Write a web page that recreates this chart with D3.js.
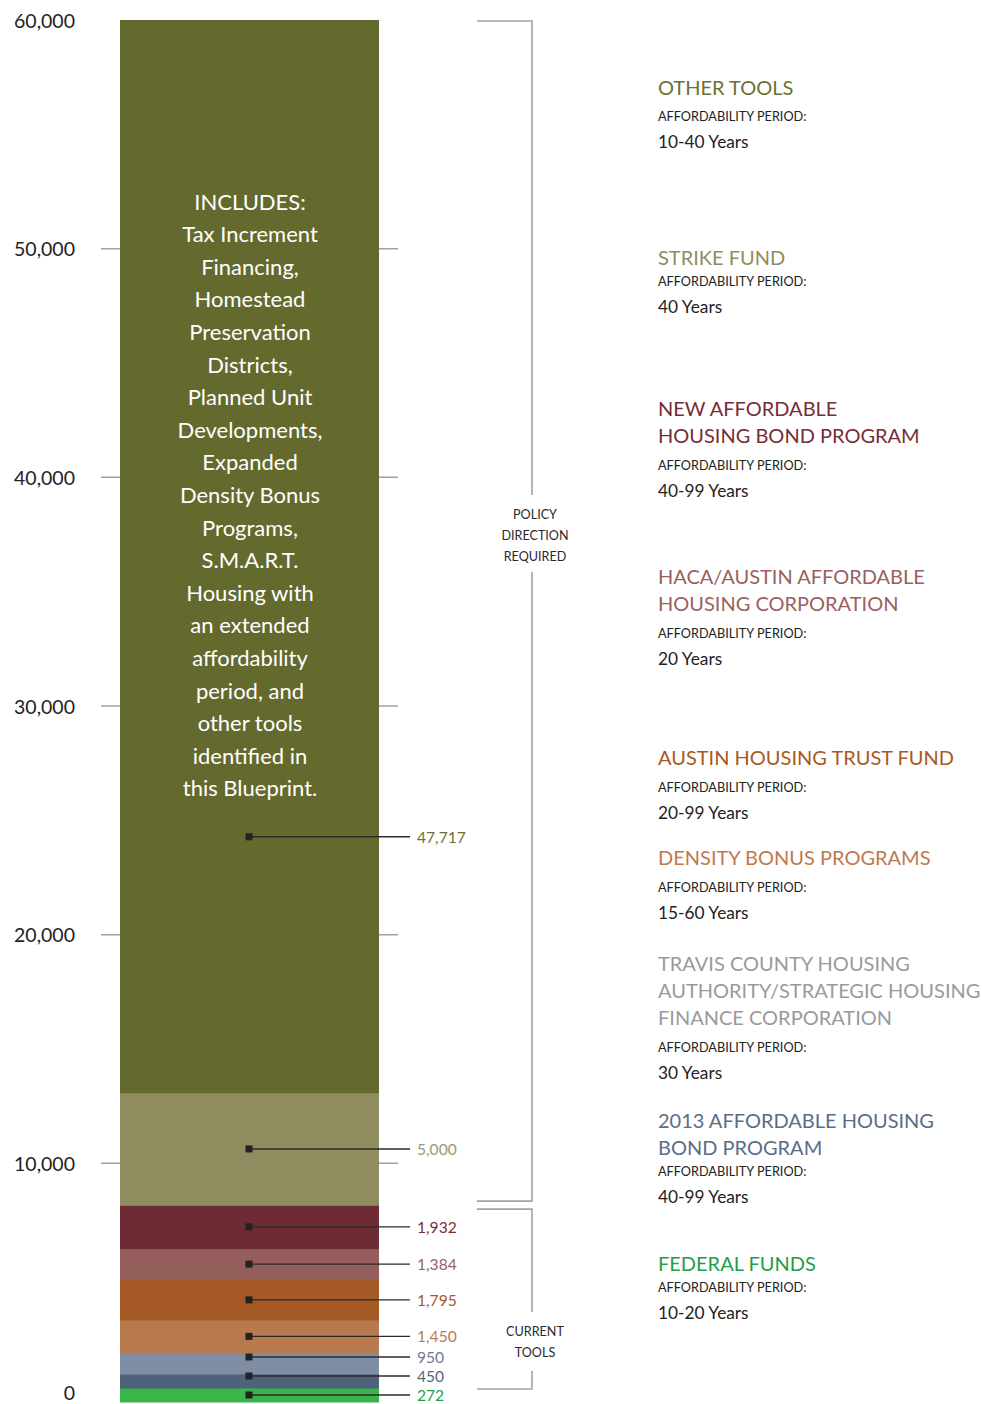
<!DOCTYPE html>
<html>
<head>
<meta charset="utf-8">
<script src="https://cdn.jsdelivr.net/npm/d3@7/dist/d3.min.js"></script>
<style>
  html, body { margin: 0; padding: 0; background: #fff; }
  svg { display: block; font-family: Lato, "Open Sans", sans-serif; }
</style>
</head>
<body>
<svg id="chart" width="982" height="1404"></svg>
<script>
// ---------- DATA (bottom of stack first) ----------
const categories = [
  "Federal Funds",
  "2013 Affordable Housing Bond Program",
  "Travis County Housing Authority/Strategic Housing Finance Corporation",
  "Density Bonus Programs",
  "Austin Housing Trust Fund",
  "HACA/Austin Affordable Housing Corporation",
  "New Affordable Housing Bond Program",
  "Strike Fund",
  "Other Tools"
];
const values = [272, 450, 950, 1450, 1795, 1384, 1932, 5000, 47717];
const barColors = ["#39b54a", "#4f627b", "#7f8ea5", "#b8794d", "#a55a26", "#945e5b", "#6e2b33", "#8f8d60", "#646a2e"];
const valueColors = ["#1f9e48", "#56677e", "#6a7c96", "#bd7a4e", "#a9591f", "#9a5f5e", "#7a2e38", "#9a9870", "#6b7135"];
const axisTicks = [0, 10000, 20000, 30000, 40000, 50000, 60000];
const gridTicks = [10000, 20000, 30000, 40000, 50000];

// Legend (top to bottom)
const legendTitles = [
  ["OTHER TOOLS"],
  ["STRIKE FUND"],
  ["NEW AFFORDABLE", "HOUSING BOND PROGRAM"],
  ["HACA/AUSTIN AFFORDABLE", "HOUSING CORPORATION"],
  ["AUSTIN HOUSING TRUST FUND"],
  ["DENSITY BONUS PROGRAMS"],
  ["TRAVIS COUNTY HOUSING", "AUTHORITY/STRATEGIC HOUSING", "FINANCE CORPORATION"],
  ["2013 AFFORDABLE HOUSING", "BOND PROGRAM"],
  ["FEDERAL FUNDS"]
];
const legendPeriods = ["10-40 Years", "40 Years", "40-99 Years", "20 Years", "20-99 Years", "15-60 Years", "30 Years", "40-99 Years", "10-20 Years"];
const legendColors = ["#6b7135", "#8f8d60", "#772d37", "#9b5f5e", "#a9591f", "#be7a4e", "#999a9c", "#5b6d86", "#1f9e48"];

const includesLines = ["INCLUDES:", "Tax Increment", "Financing,", "Homestead", "Preservation", "Districts,",
  "Planned Unit", "Developments,", "Expanded", "Density Bonus", "Programs,", "S.M.A.R.T.",
  "Housing with", "an extended", "affordability", "period, and", "other tools", "identified in", "this Blueprint."];

const bracketLabels = [["POLICY", "DIRECTION", "REQUIRED"], ["CURRENT", "TOOLS"]];

// ---------- LAYOUT ----------
const svg = d3.select("#chart");
const barX0 = 120, barX1 = 379, barTop = 20, barBottom = 1402;
const y = d3.scaleLinear().domain([0, 60000]).range([1392, 20]);

// axis grid ticks (behind bar)
svg.append("g").selectAll("line").data(gridTicks).join("line")
  .attr("x1", 101).attr("x2", 398)
  .attr("y1", d => y(d)).attr("y2", d => y(d))
  .attr("stroke", "#a0a0a0").attr("stroke-width", 1.5);

// axis labels
svg.append("g").selectAll("text").data(axisTicks).join("text")
  .attr("x", 75).attr("y", d => y(d))
  .attr("text-anchor", "end").attr("dominant-baseline", "central")
  .attr("font-size", 19.5).attr("fill", "#222")
  .text(d => d3.format(",")(d));

// stacked bar: proportional heights with a minimum visible height
const span = barBottom - barTop;
const minH = 14;
let smallIdx = new Set();
let hScale;
for (let it = 0; it < 4; it++) {
  const largeSum = d3.sum(values.filter((v, i) => !smallIdx.has(i)));
  hScale = d3.scaleLinear().domain([0, largeSum]).range([0, span - minH * smallIdx.size]);
  values.forEach((v, i) => { if (hScale(v) < minH) smallIdx.add(i); });
}
const heights = values.map(v => Math.max(hScale(v), minH));
let acc = barBottom;
const segs = values.map((v, i) => {
  const y1 = acc, y0 = acc - heights[i];
  acc = y0;
  return { v, i, y0, y1, mid: (y0 + y1) / 2 };
});

svg.append("g").selectAll("rect").data(segs).join("rect")
  .attr("x", barX0).attr("width", barX1 - barX0)
  .attr("y", d => d.y0).attr("height", d => d.y1 - d.y0 + 0.5)
  .attr("fill", d => barColors[d.i]);

// includes text in top segment
const topSeg = segs[segs.length - 1];
const lineH = 32.6;
const firstLineY = topSeg.y0 + 181;
svg.append("g").selectAll("text").data(includesLines).join("text")
  .attr("x", (barX0 + barX1) / 2 + 0.5).attr("y", (d, i) => firstLineY + i * lineH)
  .attr("text-anchor", "middle").attr("dominant-baseline", "central")
  .attr("font-size", 22).attr("fill", "#fff")
  .text(d => d);
const lastLineY = firstLineY + (includesLines.length - 1) * lineH;

// marker positions with spacing to avoid overlap
const markerY = segs.map(s => s.mid);
markerY[segs.length - 1] = lastLineY + 49;
const labelY = markerY.slice();
for (let i = 1; i < labelY.length; i++) {
  if (labelY[i] > labelY[i - 1] - 19) labelY[i] = labelY[i - 1] - 19;
}
const mx = 249;
const ann = svg.append("g");
segs.forEach((s, i) => {
  ann.append("line").attr("x1", mx).attr("x2", 410)
    .attr("y1", labelY[i]).attr("y2", labelY[i])
    .attr("stroke", "#2a2a2a").attr("stroke-width", 1.4);
  ann.append("rect").attr("x", mx - 3.5).attr("y", labelY[i] - 3.5)
    .attr("width", 7).attr("height", 7).attr("fill", "#222");
  ann.append("text").attr("x", 417).attr("y", labelY[i])
    .attr("dominant-baseline", "central").attr("font-size", 15.6)
    .attr("fill", valueColors[i]).text(d3.format(",")(s.v));
});

// brackets
const split = segs[6].y0; // boundary between current tools and policy tools
const bx0 = 477, bx1 = 532;
const brackets = [
  { top: barTop + 1, bottom: split - 4, gap0: 495, gap1: 572, lbl: bracketLabels[0], ly: 514 },
  { top: split + 4, bottom: y(0) - 3, gap0: 1312, gap1: 1371, lbl: bracketLabels[1], ly: 1331 }
];
const bg = svg.append("g").attr("fill", "none").attr("stroke", "#a3a3a3").attr("stroke-width", 1.6);
brackets.forEach(b => {
  bg.append("path").attr("d", `M${bx0},${b.top}H${bx1}V${b.gap0}`);
  bg.append("path").attr("d", `M${bx1},${b.gap1}V${b.bottom}H${bx0}`);
  b.lbl.forEach((t, j) => {
    svg.append("text").attr("x", 535).attr("y", b.ly + j * 21)
      .attr("text-anchor", "middle").attr("dominant-baseline", "central")
      .attr("font-size", 12.6).attr("fill", "#2a2a2a").text(t);
  });
});

// legend
const legendTop = [87, 257, 408, 576, 757, 857, 963, 1120, 1263];
const periodGap = [29, 24, 30, 30, 30, 30, 30, 24, 24];
const lx = 658;
const lg = svg.append("g");
legendTitles.forEach((lines, i) => {
  lines.forEach((t, j) => {
    lg.append("text").attr("x", lx).attr("y", legendTop[i] + j * 27)
      .attr("dominant-baseline", "central").attr("font-size", 20)
      .attr("fill", legendColors[i]).text(t);
  });
  const ay = legendTop[i] + (lines.length - 1) * 27 + periodGap[i];
  lg.append("text").attr("x", lx).attr("y", ay)
    .attr("dominant-baseline", "central").attr("font-size", 12.7)
    .attr("fill", "#222").text("AFFORDABILITY PERIOD:");
  lg.append("text").attr("x", lx).attr("y", ay + 25)
    .attr("dominant-baseline", "central").attr("font-size", 17.3)
    .attr("fill", "#222").text(legendPeriods[i]);
});
</script>
</body>
</html>
